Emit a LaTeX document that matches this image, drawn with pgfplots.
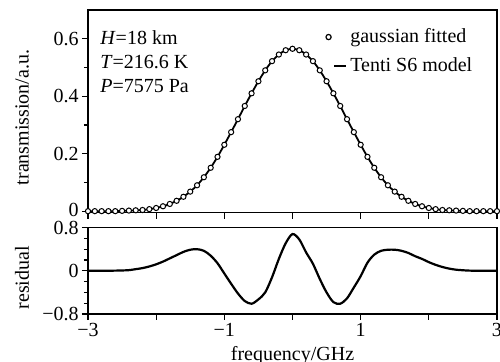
\documentclass[border=0pt]{standalone}
\usepackage{fontspec}
\setmainfont{Liberation Serif}
\usepackage{pgfplots}
\usepackage{pgfplotstable}
\pgfplotsset{compat=1.18}
\pgfplotstableread{
x y
-3.0 0.000
-2.9 0.000
-2.8 0.000
-2.7 0.000
-2.6 0.000
-2.5 0.001
-2.4 0.002
-2.3 0.003
-2.2 0.004
-2.1 0.007
-2.0 0.011
-1.9 0.017
-1.8 0.025
-1.7 0.036
-1.6 0.050
-1.5 0.068
-1.4 0.090
-1.3 0.118
-1.2 0.151
-1.1 0.189
-1.0 0.231
-0.9 0.275
-0.8 0.320
-0.7 0.366
-0.6 0.410
-0.5 0.452
-0.4 0.490
-0.3 0.522
-0.2 0.545
-0.1 0.560
0.0 0.565
0.1 0.560
0.2 0.545
0.3 0.522
0.4 0.490
0.5 0.452
0.6 0.410
0.7 0.366
0.8 0.320
0.9 0.275
1.0 0.231
1.1 0.189
1.2 0.151
1.3 0.118
1.4 0.090
1.5 0.068
1.6 0.050
1.7 0.036
1.8 0.025
1.9 0.017
2.0 0.011
2.1 0.007
2.2 0.004
2.3 0.003
2.4 0.002
2.5 0.001
2.6 0.000
2.7 0.000
2.8 0.000
2.9 0.000
3.0 0.000
}\trans
\pgfplotstableread{
x r
-3.0 0.000
-2.8 0.000
-2.6 0.003
-2.5 0.006
-2.4 0.012
-2.3 0.030
-2.2 0.050
-2.1 0.080
-2.0 0.120
-1.9 0.170
-1.8 0.230
-1.7 0.290
-1.6 0.350
-1.5 0.390
-1.4 0.400
-1.3 0.370
-1.2 0.280
-1.1 0.140
-1.0 -0.050
-0.9 -0.240
-0.8 -0.420
-0.7 -0.560
-0.6 -0.610
-0.5 -0.530
-0.4 -0.400
-0.3 -0.120
-0.2 0.220
-0.1 0.510
0.0 0.680
0.1 0.580
0.2 0.340
0.3 0.130
0.4 -0.150
0.5 -0.400
0.6 -0.580
0.7 -0.610
0.8 -0.510
0.9 -0.310
1.0 -0.100
1.1 0.150
1.2 0.300
1.3 0.370
1.4 0.390
1.5 0.390
1.6 0.370
1.7 0.330
1.8 0.270
1.9 0.220
2.0 0.160
2.1 0.110
2.2 0.070
2.3 0.040
2.4 0.020
2.5 0.010
2.6 0.003
2.8 0.000
3.0 0.000
}\resid
\begin{document}
\begin{tikzpicture}
\pgfplotsset{
  every axis/.append style={
    scale only axis, width=204.5pt, xmin=-3, xmax=3,
    axis line style={line width=0.7pt},
    tick style={line width=0.6pt, black},
    tick align=outside, major tick length=3pt, minor tick length=2pt,
    xtick pos=bottom, ytick pos=left,
    tick label style={font=\fontsize{10}{12}\selectfont},
    yticklabel style={inner xsep=1.5pt, inner ysep=0pt},
    xticklabel style={inner sep=1.5pt},
    label style={font=\fontsize{10}{12}\selectfont},
  },
}
\begin{axis}[name=top, at={(0pt,0pt)}, anchor=south west, height=101.3pt,
  ymin=-0.005, ymax=0.7,
  ytick={0,0.2,0.4,0.6}, yticklabels={\raisebox{1pt}{0},0.2,0.4,0.6},
  minor ytick={0.1,0.3,0.5},
  xtick={-3,...,3}, xticklabels={},
  clip=false,
  ylabel={transmission/a.u.},
  ylabel style={at={(axis description cs:-0.161,0.47)}, anchor=center},
  legend style={draw=none, fill=none, at={(axis description cs:0.965,0.95)}, anchor=north east, row sep=2pt, font=\fontsize{10}{12}\selectfont},
  legend cell align=left]
\addplot[only marks, mark=*, mark size=1.3pt, mark options={line width=0.5pt, fill=white, draw=black},
  legend image code/.code={\draw[line width=0.6pt, fill=white] (0.3cm,0) circle (1.3pt);}] table {\trans};
\addlegendentry{gaussian fitted}
\addplot[no markers, line width=0.9pt, smooth, black,
  legend image code/.code={\draw[line width=0.7pt] (0.4cm,0) -- (0.6cm,0);}] table {\trans};
\addlegendentry{Tenti S6 model}
\node[anchor=north west, align=left, font=\fontsize{10}{12}\selectfont, inner sep=0pt]
  at ([xshift=6pt,yshift=-10pt]rel axis cs:0,1) {\textit{H}=18 km\\ \textit{T}=216.6 K\\ \textit{P}=7575 Pa};
\end{axis}
\begin{axis}[at={(0pt,-7.5pt)}, anchor=north west, height=43.2pt,
  ymin=-0.8, ymax=0.8,
  ytick={-0.8,0,0.8}, yticklabels={−0.8,0,\raisebox{-2pt}{0.8}},
  minor ytick={-0.6,-0.4,-0.2,0.2,0.4,0.6},
  xtick={-3,...,3}, xticklabels={−3,,−1,,1,,3},
  xlabel={frequency/GHz},
  xlabel style={at={(axis description cs:0.5,0)}, anchor=north, yshift=-12.5pt},
  ylabel={residual},
  ylabel style={at={(axis description cs:-0.161,0.42)}, anchor=center}]
\addplot[no markers, line width=1.1pt, smooth, black] table {\resid};
\end{axis}
\pgfresetboundingbox
\path[use as bounding box] (-44pt,106.3pt) rectangle ++(250pt,-181pt);
\end{tikzpicture}
\end{document}
